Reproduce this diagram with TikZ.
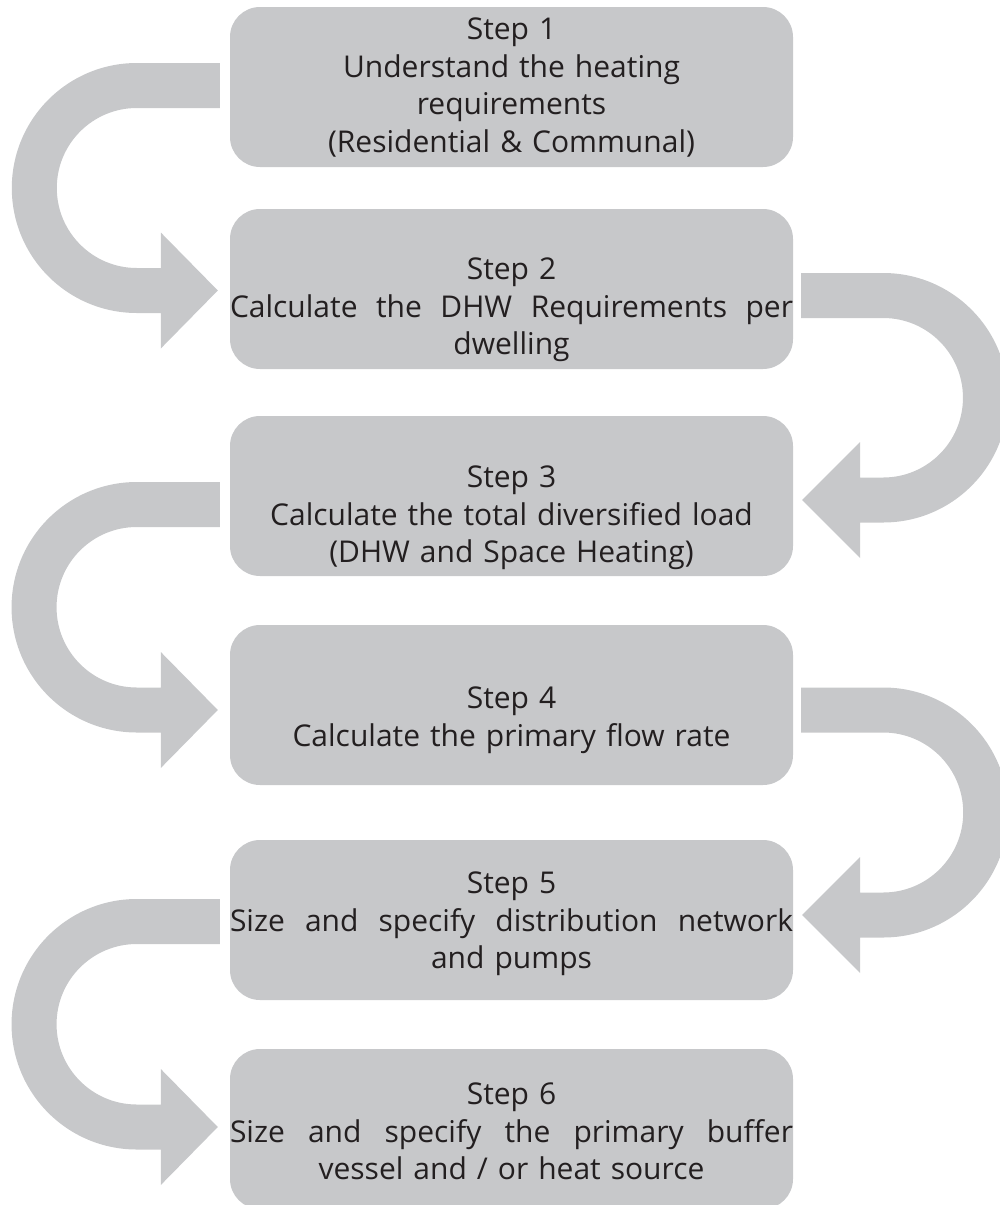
\documentclass[tikz,border=0pt]{standalone}
\usepackage{fontspec}
\setmainfont{Open Sans}
\usetikzlibrary{calc}
\definecolor{boxgrey}{HTML}{C7C8CA}
\definecolor{inkgrey}{HTML}{231F20}
\tikzset{
  % step boxes and their text
  stepbox/.style={rectangle,rounded corners=30pt,fill=boxgrey,minimum width=563pt,
    minimum height=160pt,inner sep=0pt},
  steptext/.style={text width=563pt,align=center,inner sep=0pt,text=inkgrey,anchor=base,
    font=\fontsize{30}{37.5}\selectfont},
  % the wide U-turn arrows
  turn/.style={fill=boxgrey},
}
% a justified line, spread over the whole box
\newcommand{\spread}[1]{\leavevmode\hbox to 563pt{\spaceskip=0.25em plus 1fil\relax #1}}
% U-turn on the left: #1 from box, #2 to box, #3/#4 shift (up) of bar and tip
\newcommand{\turnleft}[4]{%
  \fill[turn] let \p1=([yshift=#3pt]#1.west), \p2=([yshift=#4pt]#2.west),
    \n1={(\y1-\y2)/2}, \n2={\x1-93pt} in
    (\x1-10pt,\y1+22.5pt) -- (\n2,\y1+22.5pt)
    arc[start angle=90,end angle=270,radius=\n1+22.5pt]
    -- (\x1-69pt,\y2-22.5pt) -- (\x1-69pt,\y2-58pt) -- (\x1-12pt,\y2)
    -- (\x1-69pt,\y2+58pt) -- (\x1-69pt,\y2+22.5pt) -- (\n2,\y2+22.5pt)
    arc[start angle=270,end angle=90,radius=\n1-22.5pt]
    -- (\x1-10pt,\y1-22.5pt) -- cycle;}
% U-turn on the right
\newcommand{\turnright}[4]{%
  \fill[turn] let \p1=([yshift=#3pt]#1.east), \p2=([yshift=#4pt]#2.east),
    \n1={(\y1-\y2)/2}, \n2={\x1+90pt} in
    (\x1+8pt,\y1+22.5pt) -- (\n2,\y1+22.5pt)
    arc[start angle=90,end angle=-90,radius=\n1+22.5pt]
    -- (\x1+67pt,\y2-22.5pt) -- (\x1+67pt,\y2-58pt) -- (\x1+9pt,\y2)
    -- (\x1+67pt,\y2+58pt) -- (\x1+67pt,\y2+22.5pt) -- (\n2,\y2+22.5pt)
    arc[start angle=-90,end angle=90,radius=\n1-22.5pt]
    -- (\x1+8pt,\y1-22.5pt) -- cycle;}

\begin{document}
\begin{tikzpicture}[x=1pt,y=-1pt]
  \useasboundingbox (0,0) rectangle (1000,1205);
  % boxes
  \node[stepbox] (s1) at (511.5,87) {};
  \node[stepbox] (s2) at (511.5,289) {};
  \node[stepbox] (s3) at (511.5,496) {};
  \node[stepbox] (s4) at (511.5,705) {};
  \node[stepbox] (s5) at (511.5,920) {};
  \node[stepbox] (s6) at (511.5,1129) {};
  % texts (first baseline)
  \node[steptext] (t1) at ([yshift=-33pt]s1.north)
    {Step 1\\Understand the heating\\requirements\\(Residential \& Communal)};
  \node[steptext] (t2) at ([yshift=-71pt]s2.north)
    {Step 2\\\spread{Calculate the DHW Requirements per}\\dwelling};
  \node[steptext] (t3) at ([yshift=-72pt]s3.north)
    {Step 3\\Calculate the total diversified load\\(DHW and Space Heating)};
  \node[steptext] (t4) at ([yshift=-84pt]s4.north)
    {Step 4\\Calculate the primary flow rate};
  \node[steptext] (t5) at ([yshift=-54pt]s5.north)
    {Step 5\\\spread{Size and specify distribution network}\\and pumps};
  \node[steptext] (t6) at ([yshift=-56pt]s6.north)
    {Step 6\\\spread{Size and specify the primary buffer}\\vessel and / or heat source};
  % arrows
  \turnleft{s1}{s2}{1.5}{-1.5}
  \turnright{s2}{s3}{-6.5}{-4}
  \turnleft{s3}{s4}{-8.5}{-5}
  \turnright{s4}{s5}{-5}{5}
  \turnleft{s5}{s6}{-1.5}{2}
\end{tikzpicture}
\end{document}
